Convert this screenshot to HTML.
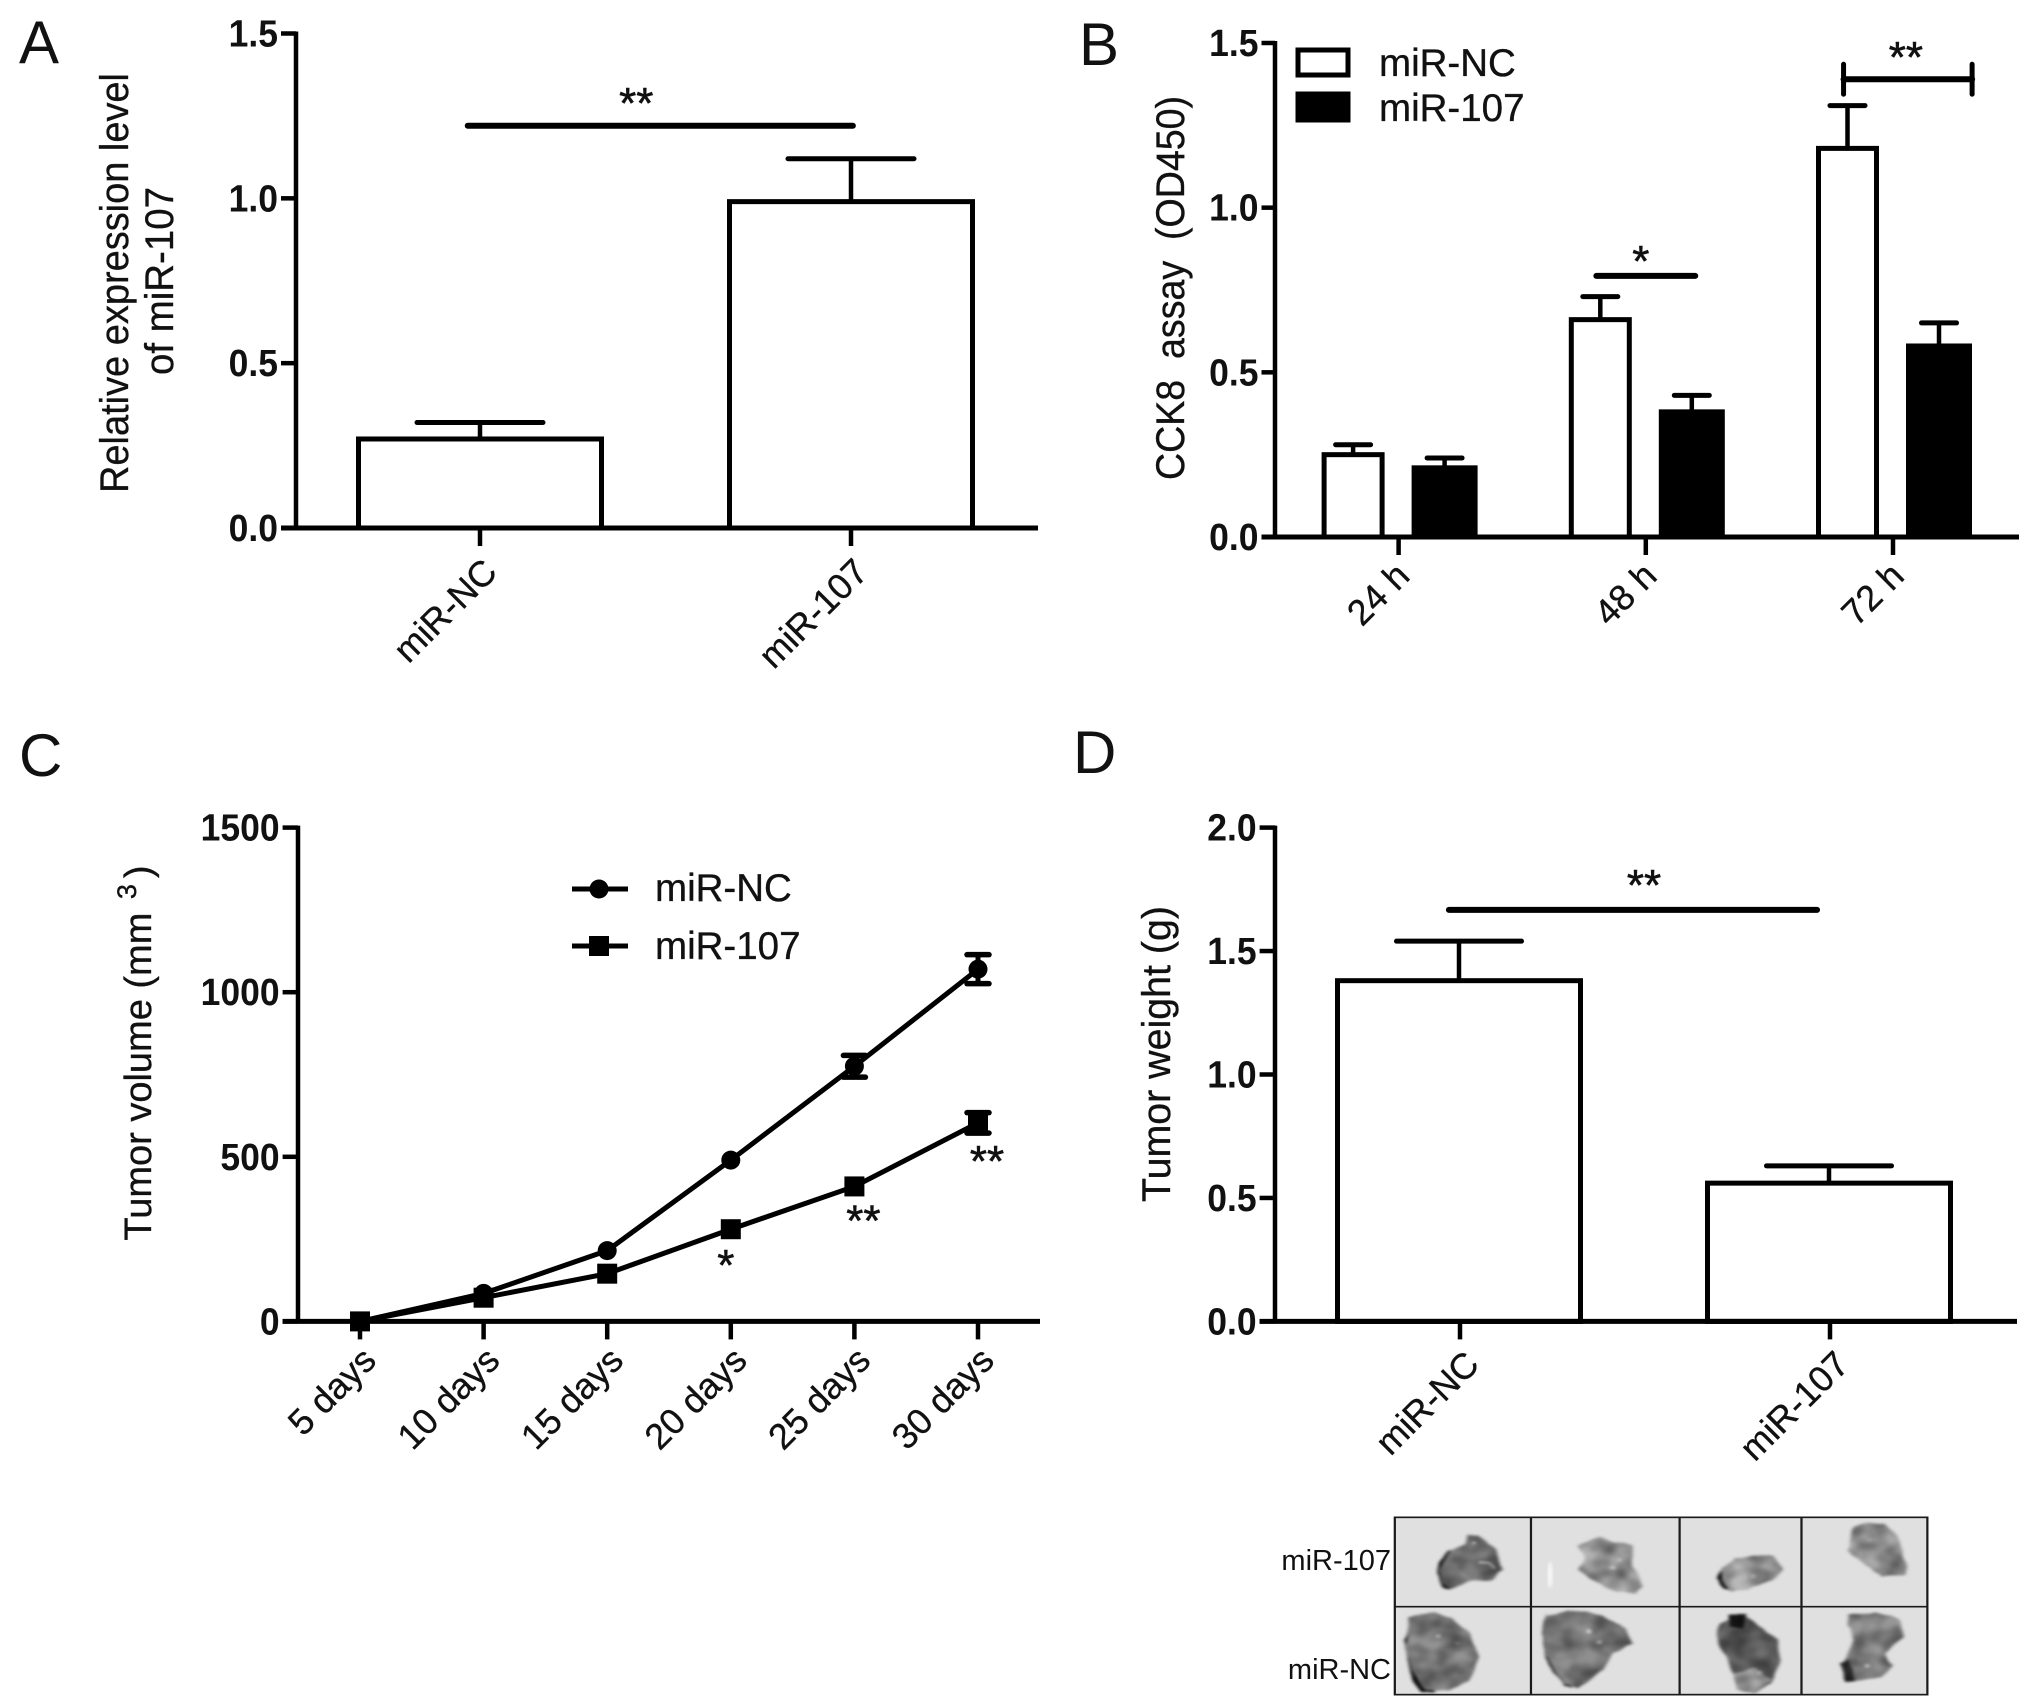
<!DOCTYPE html>
<html lang="en">
<head>
<meta charset="utf-8">
<title>miR-107 figure</title>
<style>
html,body{margin:0;padding:0;background:#fff;}
svg{display:block;}
text{font-family:"Liberation Sans",Arial,sans-serif;fill:#111;}
.tick{font-weight:700;font-size:38px;text-anchor:end;}
.cat{font-size:36px;text-anchor:end;stroke:#111;stroke-width:.35px;}
.title{font-size:40px;text-anchor:middle;stroke:#111;stroke-width:.35px;}
.panel{font-size:60px;}
.leg{font-size:38.5px;stroke:#111;stroke-width:.35px;}
.star{font-size:44px;text-anchor:middle;stroke:#111;stroke-width:.6px;}
.img-label{font-size:29px;text-anchor:end;}
</style>
</head>
<body>
<svg id="fig" xmlns="http://www.w3.org/2000/svg" width="2031" height="1708" viewBox="0 0 2031 1708">
  <defs>
    <filter id="soft" x="-20%" y="-20%" width="140%" height="140%"><feGaussianBlur stdDeviation="4"/></filter>
    <filter id="tissue" x="-5%" y="-5%" width="110%" height="110%" color-interpolation-filters="sRGB">
      <feTurbulence type="fractalNoise" baseFrequency="0.02" numOctaves="2" seed="4" result="n"/>
      <feDisplacementMap in="SourceGraphic" in2="n" scale="14" xChannelSelector="R" yChannelSelector="G" result="d"/>
      <feColorMatrix in="n" type="matrix" values="0 0 0 0 0  0 0 0 0 0  0 0 0 0 0  0.9 0 0 0 -0.25" result="shade"/>
      <feComposite in="shade" in2="d" operator="in" result="m"/>
      <feMerge result="t"><feMergeNode in="d"/><feMergeNode in="m"/></feMerge>
      <feGaussianBlur in="t" stdDeviation="4"/>
    </filter>
    <clipPath id="imgclip"><rect x="302" y="52" width="1193" height="532"/></clipPath>
  </defs>
  <rect width="2031" height="1708" fill="#fff"/>

  <text class="panel" x="19" y="63">A</text>
  <text class="panel" x="1079" y="65">B</text>
  <text class="panel" x="19" y="776">C</text>
  <text class="panel" x="1073" y="773">D</text>

  <text class="title" transform="translate(128,283) rotate(-90)" textLength="420" lengthAdjust="spacingAndGlyphs">Relative expression level</text>
  <text class="title" transform="translate(173,281) rotate(-90)" textLength="188" lengthAdjust="spacingAndGlyphs">of miR-107</text>
  <text class="title" transform="translate(1184,288) rotate(-90)" textLength="384" lengthAdjust="spacingAndGlyphs" xml:space="preserve">CCK8  assay  (OD450)</text>
  <text class="title" style="font-size:38px" transform="translate(151,1053) rotate(-90)">Tumor volume (mm <tspan dx="3" dy="-15" font-size="27">3</tspan><tspan dy="15" dx="6">)</tspan></text>
  <text class="title" transform="translate(1170,1054) rotate(-90)" textLength="296" lengthAdjust="spacingAndGlyphs">Tumor weight (g)</text>

  <g id="panelA"></g>
  <g id="panelB"></g>
  <g id="panelC"></g>
  <g id="panelD"></g>

  <g>
    <rect x="1298" y="50" width="50" height="25" fill="#fff" stroke="#000" stroke-width="5"/>
    <text class="leg" x="1379" y="76">miR-NC</text>
    <rect x="1298" y="94" width="50" height="26" fill="#000" stroke="#000" stroke-width="5"/>
    <text class="leg" x="1379" y="121">miR-107</text>
  </g>
  <g>
    <line x1="572" x2="628" y1="889" y2="889" stroke="#000" stroke-width="5"/>
    <circle cx="599" cy="889" r="9.5" fill="#000"/>
    <text class="leg" x="655" y="901">miR-NC</text>
    <line x1="572" x2="628" y1="946" y2="946" stroke="#000" stroke-width="5"/>
    <rect x="589" y="936" width="20" height="20" fill="#000"/>
    <text class="leg" x="655" y="959">miR-107</text>
  </g>

  <g>
    <text class="img-label" x="1391" y="1570">miR-107</text>
    <text class="img-label" x="1391" y="1679">miR-NC</text>
    <g transform="translate(1260,1500) scale(0.4464,0.3333)">
      <rect x="302" y="52" width="1193" height="532" fill="#e0e0e0"/>
      <g clip-path="url(#imgclip)">
        <ellipse cx="650" cy="225" rx="5" ry="40" fill="#fafafa" filter="url(#soft)"/>
        <g filter="url(#tissue)">
          <polygon points="400,190 420,150 440,165 430,268 410,265 398,220" fill="#111"/>
          <polygon points="408,190 425,150 460,130 465,105 490,105 510,130 530,150 545,210 520,240 470,245 430,265 410,250 402,210" fill="#888"/>
          <polygon points="440,200 460,180 530,170 540,215 510,238 470,240" fill="#7c7c7c"/>
          <polygon points="710,135 760,110 790,125 835,135 835,200 858,260 840,280 795,275 740,235 715,205 725,170" fill="#b2b2b2"/>
          <polygon points="1022,235 1040,205 1060,240 1060,272 1040,268" fill="#0c0c0c"/>
          <polygon points="1035,205 1065,175 1110,165 1150,170 1175,205 1150,240 1090,270 1050,270 1035,240" fill="#b8b8b8"/>
          <polygon points="1330,80 1360,65 1400,70 1425,110 1450,200 1445,225 1395,232 1355,195 1315,150" fill="#a8a8a8"/>
          <polygon points="322,420 345,345 360,400 390,578 360,575 340,540" fill="#0c0c0c"/>
          <polygon points="335,350 390,335 430,355 470,400 492,470 470,540 420,575 370,570 340,510 325,440 330,400" fill="#929292"/>
          <polygon points="632,400 640,345 660,400 700,565 680,560 640,480" fill="#111"/>
          <polygon points="640,350 690,330 770,345 820,385 838,430 790,460 770,510 715,565 680,555 640,470 634,400" fill="#8f8f8f"/>
          <polygon points="1030,370 1070,342 1110,365 1160,420 1165,480 1145,550 1110,580 1070,570 1060,520 1040,460 1020,410" fill="#6e6e6e"/>
          <polygon points="1060,520 1110,500 1145,540 1110,580 1070,570" fill="#bcbcbc"/>
          <polygon points="1050,345 1090,345 1085,385 1050,380" fill="#181818"/>
          <polygon points="1320,345 1380,335 1430,360 1445,410 1400,460 1420,500 1390,530 1330,545 1305,510 1315,460 1330,420 1315,380" fill="#969696"/>
          <polygon points="1300,490 1320,480 1335,545 1315,548" fill="#333"/>
          <circle cx="480" cy="128" r="5" fill="#eee"/>
          <polyline points="490,185 515,190 530,210" fill="none" stroke="#eee" stroke-width="7"/>
          <circle cx="790" cy="205" r="7" fill="#eee"/>
          <circle cx="805" cy="178" r="5" fill="#ddd"/>
          <circle cx="1107" cy="228" r="6" fill="#eee"/>
          <circle cx="1365" cy="122" r="5" fill="#ccc"/>
          <circle cx="400" cy="410" r="6" fill="#ddd"/>
          <circle cx="445" cy="428" r="4" fill="#ccc"/>
          <circle cx="735" cy="395" r="7" fill="#ddd"/>
          <circle cx="762" cy="425" r="6" fill="#eee"/>
          <circle cx="1120" cy="517" r="5" fill="#eee"/>
          <circle cx="1360" cy="498" r="5" fill="#eee"/>
        </g>
      </g>
      <g stroke="#1a1a1a" stroke-width="5" fill="none">
        <rect x="302" y="52" width="1193" height="532"/>
        <line x1="607" x2="607" y1="52" y2="584"/>
        <line x1="940" x2="940" y1="52" y2="584"/>
        <line x1="1213" x2="1213" y1="52" y2="584"/>
        <line x1="302" x2="1495" y1="320" y2="320"/>
      </g>
    </g>
  </g>
</svg>

<script>
/* Panel A data */
const aCategories = ['miR-NC', 'miR-107'];
const aValues = [0.27, 0.99];
const aErrorTops = [0.32, 1.12];
const aTicks = ['0.0', '0.5', '1.0', '1.5'];
const aTickValues = [0, 0.5, 1, 1.5];
const aSigBar = [-0.033, 1.005, 1.22];

/* Panel B data */
const bCategories = ['24 h', '48 h', '72 h'];
const bNc = [0.25, 0.66, 1.18];
const bNcErrorTops = [0.28, 0.73, 1.31];
const b107 = [0.21, 0.38, 0.58];
const b107ErrorTops = [0.24, 0.43, 0.65];
const bTicks = ['0.0', '0.5', '1.0', '1.5'];
const bTickValues = [0, 0.5, 1, 1.5];
const bSigStar = [0.8, 1.2, 0.793];
const bSigDoubleStar = [1.8, 2.32, 1.39];

/* Panel C data */
const cCategories = ['5 days', '10 days', '15 days', '20 days', '25 days', '30 days'];
const cNc = [0, 85, 215, 490, 775, 1070];
const cNcErr = [0, 0, 0, 0, 33, 44];
const c107 = [0, 72, 145, 280, 410, 603];
const c107Err = [0, 0, 0, 0, 0, 31];
const cTicks = ['0', '500', '1000', '1500'];
const cTickValues = [0, 500, 1000, 1500];
const cStars = ['', '', '', '*', '**', '**'];

/* Panel D data */
const dCategories = ['miR-NC', 'miR-107'];
const dValues = [1.38, 0.56];
const dErrorTops = [1.54, 0.63];
const dTicks = ['0.0', '0.5', '1.0', '1.5', '2.0'];
const dTickValues = [0, 0.5, 1, 1.5, 2];
const dSigBar = [-0.03, 0.965, 1.667];

const NS = 'http://www.w3.org/2000/svg';
function mk(parent, tag, attrs, txt) {
  const e = document.createElementNS(NS, tag);
  for (const k in attrs) e.setAttribute(k, attrs[k]);
  if (txt !== undefined) e.textContent = txt;
  parent.appendChild(e);
  return e;
}
function linY(y0, yTop, max) { return v => y0 + (yTop - y0) * v / max; }
function linX(x0, step) { return i => x0 + step * i; }
function tickWidth(s) {
  let w = 0;
  for (const ch of s) w += ch === '.' ? 0.278 : 0.556;
  return w * 35.5;
}

function drawAxes(g, cfg) {
  const yAxis = mk(g, 'line', {x1: cfg.axisX, x2: cfg.axisX, y1: cfg.y(cfg.tickValues[cfg.tickValues.length - 1]) - 2, y2: cfg.y(0), stroke: '#000', 'stroke-width': 4.5});
  
  
  const xAxis = mk(g, 'line', {x1: cfg.axisLeft, x2: cfg.axisRight, y1: cfg.y(0), y2: cfg.y(0), stroke: '#000', 'stroke-width': 5});
  
  
  cfg.tickValues.forEach((v, i) => {
    const t = mk(g, 'line', {x1: cfg.axisLeft, x2: cfg.axisX, y1: cfg.y(v), y2: cfg.y(v), stroke: '#000', 'stroke-width': 4.5});
    
    
    const l = mk(g, 'text', {class: 'tick', x: cfg.axisLeft - 3, y: cfg.y(v) + 13, textLength: tickWidth(cfg.ticks[i]), lengthAdjust: 'spacingAndGlyphs'}, cfg.ticks[i]);
    
    
  });
  cfg.categories.forEach((c, i) => {
    const px = cfg.x(i);
    const t = mk(g, 'line', {x1: px, x2: px, y1: cfg.y(0), y2: cfg.y(0) + 18, stroke: '#000', 'stroke-width': 4.5});
    
    
    const ax = px + cfg.labelDx, ay = cfg.y(0) + cfg.labelDy;
    const l = mk(g, 'text', {class: 'cat', transform: 'translate(' + ax + ',' + ay + ') rotate(-45)'}, c);
    
    
  });
}
function drawBar(g, y, cx, w, v, errTop, capW, fill, name) {
  const stem = mk(g, 'line', {x1: cx, x2: cx, y1: y(errTop), y2: y(v), stroke: '#000', 'stroke-width': 4.5});
  
  
  const cap = mk(g, 'line', {x1: cx - capW / 2, x2: cx + capW / 2, y1: y(errTop), y2: y(errTop), stroke: '#000', 'stroke-width': 5, 'stroke-linecap': 'round'});
  
  
  const r = mk(g, 'rect', {x: cx - w / 2, y: y(v), width: w, height: y(0) - y(v), fill: fill, stroke: '#000', 'stroke-width': 5});
  
  
}
function drawSig(g, x, y, sig, label, starDx, starDy, ends) {
  const x1 = x(sig[0]), x2 = x(sig[1]), py = y(sig[2]);
  const b = mk(g, 'line', {x1: x1, x2: x2, y1: py, y2: py, stroke: '#000', 'stroke-width': 6, 'stroke-linecap': 'round'});
  
  
  if (ends) {
    [x1, x2].forEach(px => {
      const e = mk(g, 'line', {x1: px, x2: px, y1: py - 15, y2: py + 15, stroke: '#000', 'stroke-width': 5, 'stroke-linecap': 'round'});
      
      
    });
  }
  const s = mk(g, 'text', {class: 'star', x: (x1 + x2) / 2 + starDx, y: py + starDy}, label);
  
  
}

/* Panel A */
(function () {
  const g = document.getElementById('panelA');
  const y = linY(528, 33.5, 1.5), x = linX(480, 371);
  aCategories.forEach((c, i) => drawBar(g, y, x(i), 243, aValues[i], aErrorTops[i], 126, '#fff', c));
  drawAxes(g, {axisX: 296, axisLeft: 281, axisRight: 1038, y: y, x: x, ticks: aTicks, tickValues: aTickValues, categories: aCategories, labelDx: 19, labelDy: 46});
  drawSig(g, x, y, aSigBar, '**', -24, -8);
})();

/* Panel B */
(function () {
  const g = document.getElementById('panelB');
  const y = linY(537, 43, 1.5), x = linX(1398.6, 247.2);
  bCategories.forEach((c, i) => {
    drawBar(g, y, x(i) - 45.5, 58, bNc[i], bNcErrorTops[i], 35, '#fff', 'mir-nc-' + c);
    drawBar(g, y, x(i) + 46, 61, b107[i], b107ErrorTops[i], 35, '#000', 'mir-107-' + c);
  });
  drawAxes(g, {axisX: 1275, axisLeft: 1261.5, axisRight: 2019, y: y, x: x, ticks: bTicks, tickValues: bTickValues, categories: bCategories, labelDx: 13, labelDy: 41});
  drawSig(g, x, y, bSigStar, '*', -5, 0);
  drawSig(g, x, y, bSigDoubleStar, '**', -2, -7, true);
})();

/* Panel C */
(function () {
  const g = document.getElementById('panelC');
  const y = linY(1321.4, 827.6, 1500), x = linX(360, 123.6);
  drawAxes(g, {axisX: 298, axisLeft: 282.6, axisRight: 1040, y: y, x: x, ticks: cTicks, tickValues: cTickValues, categories: cCategories, labelDx: 18, labelDy: 41});
  const pts = arr => arr.map((v, i) => x(i) + ',' + y(v)).join(' ');
  const ln1 = mk(g, 'polyline', {points: pts(cNc), fill: 'none', stroke: '#000', 'stroke-width': 5});
  
  
  const ln2 = mk(g, 'polyline', {points: pts(c107), fill: 'none', stroke: '#000', 'stroke-width': 5});
  
  
  function whisker(i, v, err, name) {
    if (!err) return;
    const s = mk(g, 'line', {x1: x(i), x2: x(i), y1: y(v + err), y2: y(v - err), stroke: '#000', 'stroke-width': 5});
    
    
    [v + err, v - err].forEach(e => {
      const c = mk(g, 'line', {x1: x(i) - 11, x2: x(i) + 11, y1: y(e), y2: y(e), stroke: '#000', 'stroke-width': 5.5, 'stroke-linecap': 'round'});
      
      
    });
  }
  cCategories.forEach((c, i) => {
    whisker(i, cNc[i], cNcErr[i], 'mir-nc');
    whisker(i, c107[i], c107Err[i], 'mir-107');
    const dot = mk(g, 'circle', {cx: x(i), cy: y(cNc[i]), r: 9.5, fill: '#000'});
    
    
    const sq = mk(g, 'rect', {x: x(i) - 10, y: y(c107[i]) - 10, width: 20, height: 20, fill: '#000'});
    
    
    if (cStars[i]) {
      const dy = i === 3 ? 51 : (i === 4 ? 49 : 53);
      const st = mk(g, 'text', {class: 'star', x: x(i) + (i === 3 ? -5 : 9), y: y(c107[i]) + dy}, cStars[i]);
      
      
    }
  });
})();

/* Panel D */
(function () {
  const g = document.getElementById('panelD');
  const y = linY(1321.4, 827.6, 2), x = linX(1460, 370);
  dCategories.forEach((c, i) => drawBar(g, y, x(i) - 1, 243, dValues[i], dErrorTops[i], 125, '#fff', c));
  drawAxes(g, {axisX: 1275, axisLeft: 1259.6, axisRight: 2017, y: y, x: x, ticks: dTicks, tickValues: dTickValues, categories: dCategories, labelDx: 21, labelDy: 45});
  drawSig(g, x, y, dSigBar, '**', 11, -10);
})();
</script>
</body>
</html>
